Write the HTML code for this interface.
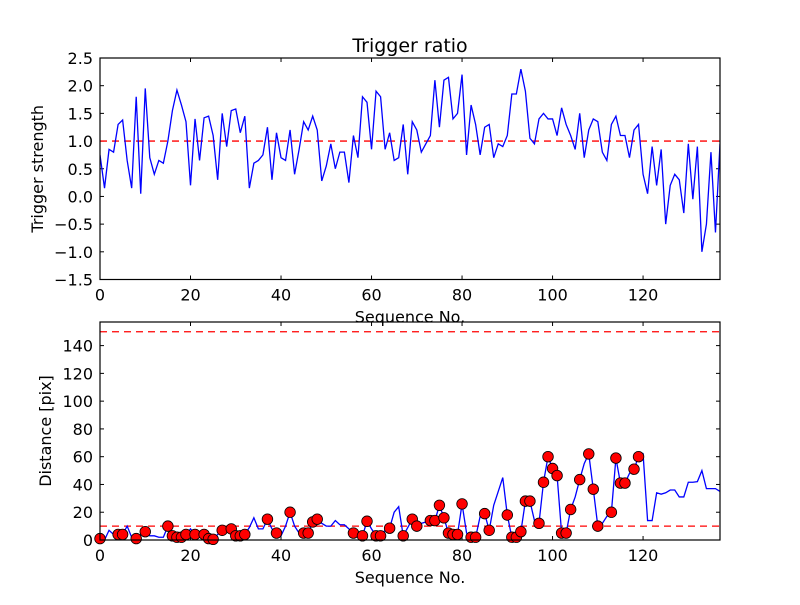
<!DOCTYPE html>
<html><head><meta charset="utf-8"><style>
body{margin:0;background:#fff}
svg text{font-family:"DejaVu Sans","Liberation Sans",sans-serif;fill:#000}
</style></head><body>
<svg id="c" width="800" height="600" xmlns="http://www.w3.org/2000/svg">
<rect width="800" height="600" fill="#fff"/>
</svg>
<script>
const ratio=[0.75,0.15,0.85,0.8,1.3,1.38,0.65,0.15,1.8,0.05,1.95,0.7,0.4,0.65,0.6,1.0,1.55,1.92,1.65,1.35,0.2,1.4,0.65,1.42,1.45,1.1,0.3,1.5,0.9,1.55,1.58,1.15,1.45,0.15,0.6,0.65,0.75,1.25,0.3,1.15,0.7,0.65,1.2,0.4,0.85,1.35,1.2,1.45,1.2,0.28,0.55,0.95,0.5,0.8,0.8,0.25,1.1,0.7,1.8,1.7,0.85,1.9,1.8,0.85,1.15,0.65,0.7,1.3,0.4,1.35,1.2,0.8,0.95,1.1,2.1,1.25,2.1,2.15,1.4,1.5,2.2,0.75,1.65,1.3,0.75,1.25,1.3,0.7,0.95,0.9,1.1,1.85,1.85,2.3,1.9,1.05,0.95,1.4,1.5,1.4,1.4,1.1,1.6,1.3,1.1,0.85,1.5,0.7,1.2,1.4,1.35,0.8,0.65,1.3,1.45,1.1,1.1,0.7,1.2,1.3,0.4,0.05,0.9,0.2,0.85,-0.5,0.2,0.4,0.3,-0.3,0.95,-0.05,0.9,-1.0,-0.5,0.8,-0.65,0.95];
const dist=[1,0,7,4,4,4,10,2,1,4,6,3,3,2,2,10,3,2,2,4,8,4,4,4,1,0.5,4,7,8,8,3,3,4,9,16,8,8,15,8,5,3,10,20,10,5,5,5,13,15,12,10,10,14,11,11,8,5,4,3,13.5,8,3,3,7,8.5,20,24,3,9,15,10,12,13,14,14,25,16,5,4,4,26,5,2,2,17,19,7,25,35,45,18,2,2,6,28,28,14,12,41.6,60,51.5,46.4,5,5,22,31,43.5,55,62,36.6,10,12,17,20,59,41,41,48,51,60,62,14,14,34,33,34,36,36,31,31,41.6,41.6,42,50,37,37,37,35];
const markerIdx=[0,4,5,8,10,15,16,17,18,19,21,23,24,25,27,29,30,31,32,37,39,42,45,46,47,48,56,58,59,61,62,64,67,69,70,73,74,75,76,77,78,79,80,82,83,85,86,90,91,92,93,94,95,97,98,99,100,101,102,103,104,106,108,109,110,113,114,115,116,118,119];
const xTicks=[0,20,40,60,80,100,120];
const topYTicks=[-1.5,-1.0,-0.5,0.0,0.5,1.0,1.5,2.0,2.5];
const botYTicks=[0,20,40,60,80,100,120,140];
const topThresh=[1.0];
const botThresh=[10,150];

const svg=document.getElementById('c');
const NS='http://www.w3.org/2000/svg';
function mk(t,a,p){const e=document.createElementNS(NS,t);for(const k in a)e.setAttribute(k,a[k]);(p||svg).appendChild(e);return e;}
const L=100,R=720,xMax=137;
const X=v=>L+(v/xMax)*(R-L);
function axes(top,bot,ymin,ymax,yt,fmt,name,ylabel,title){
  const Y=v=>bot-(v-ymin)/(ymax-ymin)*(bot-top);
  const g=mk('g',{});
  
  
  xTicks.forEach(t=>{
    const x=X(t);
    mk('line',{x1:x,x2:x,y1:bot,y2:bot-4,stroke:'#000'},g);
    mk('line',{x1:x,x2:x,y1:top,y2:top+4,stroke:'#000'},g);
    const tx=mk('text',{x:x,y:bot+21,'text-anchor':'middle','font-size':'16'},g);
    tx.textContent=t;
    
    
  });
  yt.forEach(t=>{
    const y=Y(t);
    mk('line',{x1:L,x2:L+4,y1:y,y2:y,stroke:'#000'},g);
    mk('line',{x1:R,x2:R-4,y1:y,y2:y,stroke:'#000'},g);
    const tx=mk('text',{x:L-7,y:y+6,'text-anchor':'end','font-size':'16'},g);
    tx.textContent=fmt(t).replace('-','\u2212');
    
    
  });
  const xl=mk('text',{x:(L+R)/2,y:bot+43,'text-anchor':'middle','font-size':'16'},g);
  xl.textContent='Sequence No.';
  
  
  const yl=mk('text',{x:0,y:0,'text-anchor':'middle','font-size':'16',transform:`translate(${ylabel[1]},${(top+bot)/2}) rotate(-90)`},g);
  yl.textContent=ylabel[0];
  
  
  if(title){
    const tt=mk('text',{x:(L+R)/2,y:top-6,'text-anchor':'middle','font-size':'19'},g);
    tt.textContent=title;
    
    
  }
  return {Y,g};
}
function frame(top,bot,name){
  const r=mk('rect',{x:L,y:top,width:R-L,height:bot-top,fill:'none',stroke:'#000','stroke-width':1.2});
  
  
}
const A=axes(58,279.5,-1.5,2.5,topYTicks,v=>v.toFixed(1),'top-axes',['Trigger strength',43],'Trigger ratio');
const clip=mk('clipPath',{id:'cp1'});mk('rect',{x:L,y:58,width:R-L,height:221.5},clip);
topThresh.forEach(v=>{const l=mk('line',{x1:L,x2:R,y1:A.Y(v),y2:A.Y(v),stroke:'#f00','stroke-width':1.3,'stroke-dasharray':'7,5'});

});
const p1=mk('polyline',{points:ratio.map((v,i)=>X(i)+','+A.Y(v)).join(' '),fill:'none',stroke:'#00f','stroke-width':1.3,'clip-path':'url(#cp1)'});


frame(58,279.5,'top-plot-frame');
const B=axes(322,540,0,157,botYTicks,v=>String(v),'bottom-axes',['Distance [pix]',51],null);
botThresh.forEach(v=>{const l=mk('line',{x1:L,x2:R,y1:B.Y(v),y2:B.Y(v),stroke:'#f00','stroke-width':1.3,'stroke-dasharray':'7,5'});

});
const p2=mk('polyline',{points:dist.map((v,i)=>X(i)+','+B.Y(v)).join(' '),fill:'none',stroke:'#00f','stroke-width':1.3});


markerIdx.forEach(i=>{const c=mk('circle',{cx:X(i),cy:B.Y(dist[i]),r:5.3,fill:'#f00',stroke:'#000','stroke-width':0.8});

});
frame(322,540,'bottom-plot-frame');
</script>
</body></html>
